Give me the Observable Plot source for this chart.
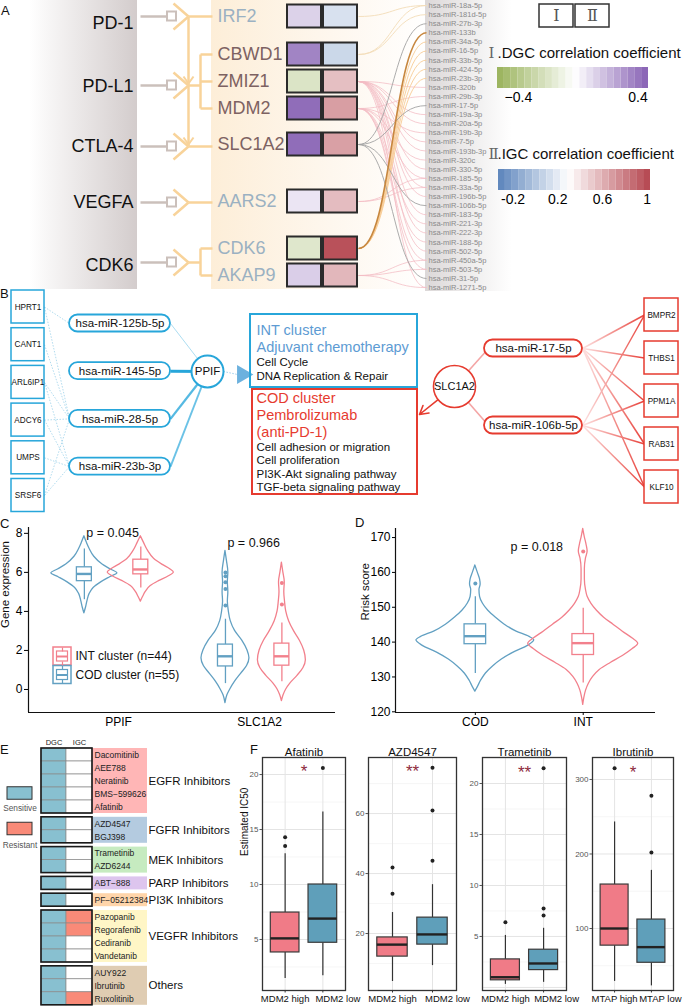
<!DOCTYPE html>
<html>
<head>
<meta charset="utf-8">
<script src="https://cdn.jsdelivr.net/npm/d3@7"></script>
<script src="https://cdn.jsdelivr.net/npm/@observablehq/plot@0.6"></script>
<style>
  html, body { margin: 0; padding: 0; background: #fff; }
  #root { position: relative; width: 685px; height: 1007px; overflow: hidden; background: #fff;
          font-family: "Liberation Sans", Arial, Helvetica, sans-serif; }
  #root > * { position: absolute; }
  .tag { font-size: 13px; color: #111; line-height: 15px; }
</style>
</head>
<body>
<div id="root"></div>
<script>
// ======================= DATA =======================
// ---- Panel A ----
const checkpoints = ["PD-1", "PD-L1", "CTLA-4", "VEGFA", "CDK6"];
const immuneCheckpoints = ["PD-1", "PD-L1", "CTLA-4"];
const targetGenes = ["IRF2", "CBWD1", "ZMIZ1", "MDM2", "SLC1A2", "AARS2", "CDK6", "AKAP9"];
const geneCheckpoint = ["PD-1", "PD-L1", "PD-L1", "PD-L1", "CTLA-4", "VEGFA", "CDK6", "CDK6"];
const geneHighlighted = [false, true, true, true, true, false, false, false];
const dgcCorr = [0.12, 0.36, -0.2, 0.43, 0.43, 0.06, -0.18, 0.13];
const igcCorr = [0.15, 0.1, 0.55, 0.68, 0.67, 0.56, 0.98, 0.58];
const dgcLegendTicks = [-0.4, 0.4];
const igcLegendTicks = [-0.2, 0.2, 0.6, 1];
const mirnas = ["hsa-miR-18a-5p","hsa-miR-181d-5p","hsa-miR-27b-3p","hsa-miR-133b","hsa-miR-34a-5p","hsa-miR-16-5p",
  "hsa-miR-33b-5p","hsa-miR-424-5p","hsa-miR-23b-3p","hsa-miR-320b","hsa-miR-29b-3p","hsa-miR-17-5p","hsa-miR-19a-3p",
  "hsa-miR-20a-5p","hsa-miR-19b-3p","hsa-miR-7-5p","hsa-miR-193b-3p","hsa-miR-320c","hsa-miR-330-5p","hsa-miR-185-5p",
  "hsa-miR-33a-5p","hsa-miR-196b-5p","hsa-miR-106b-5p","hsa-miR-183-5p","hsa-miR-221-3p","hsa-miR-222-3p",
  "hsa-miR-188-5p","hsa-miR-502-5p","hsa-miR-450a-5p","hsa-miR-503-5p","hsa-miR-31-5p","hsa-miR-1271-5p"];
const pinkTargetsZMIZ1 = ["hsa-miR-320b","hsa-miR-19a-3p","hsa-miR-20a-5p","hsa-miR-7-5p","hsa-miR-193b-3p",
  "hsa-miR-330-5p","hsa-miR-33a-5p","hsa-miR-196b-5p","hsa-miR-183-5p","hsa-miR-222-3p","hsa-miR-502-5p","hsa-miR-1271-5p"];
const pinkTargetsMDM2 = ["hsa-miR-29b-3p","hsa-miR-19b-3p","hsa-miR-320c","hsa-miR-185-5p","hsa-miR-221-3p",
  "hsa-miR-188-5p","hsa-miR-450a-5p","hsa-miR-503-5p"];
const pinkTargetsAARS2 = ["hsa-miR-185-5p","hsa-miR-33a-5p"];
const pinkTargetsAKAP9 = ["hsa-miR-450a-5p","hsa-miR-503-5p","hsa-miR-1271-5p"];
const grayTargetsSLC1A2 = ["hsa-miR-27b-3p","hsa-miR-17-5p","hsa-miR-106b-5p","hsa-miR-31-5p"];
const orangeTargetsCDK6 = ["hsa-miR-34a-5p","hsa-miR-16-5p","hsa-miR-33b-5p","hsa-miR-424-5p","hsa-miR-23b-3p"];
const amberTargetsCDK6 = ["hsa-miR-133b"];
const beigeTargetsIRF2 = ["hsa-miR-18a-5p"];
const beigeTargetsCBWD1 = ["hsa-miR-181d-5p","hsa-miR-18a-5p"];

// ---- Panel B ----
const ppifTargets = ["HPRT1","CANT1","ARL6IP1","ADCY6","UMPS","SRSF6"];
const ppifMirnas = ["hsa-miR-125b-5p","hsa-miR-145-5p","hsa-miR-28-5p","hsa-miR-23b-3p"];
const ppifMirWeight = [0.15, 1, 0.7, 0.55];
const ppifTargetLinks = [["HPRT1","hsa-miR-125b-5p"],["HPRT1","hsa-miR-28-5p"],["CANT1","hsa-miR-28-5p"],
  ["ARL6IP1","hsa-miR-28-5p"],["ARL6IP1","hsa-miR-23b-3p"],["ADCY6","hsa-miR-28-5p"],["ADCY6","hsa-miR-23b-3p"],
  ["UMPS","hsa-miR-23b-3p"],["SRSF6","hsa-miR-23b-3p"],["SRSF6","hsa-miR-28-5p"]];
const slcMirnas = ["hsa-miR-17-5p","hsa-miR-106b-5p"];
const slcTargets = ["BMPR2","THBS1","PPM1A","RAB31","KLF10"];
const slcTargetLinks = [["hsa-miR-17-5p","BMPR2"],["hsa-miR-17-5p","THBS1"],["hsa-miR-17-5p","PPM1A"],
  ["hsa-miR-17-5p","RAB31"],["hsa-miR-17-5p","KLF10"],["hsa-miR-106b-5p","BMPR2"],["hsa-miR-106b-5p","PPM1A"],
  ["hsa-miR-106b-5p","RAB31"],["hsa-miR-106b-5p","KLF10"]];
const intHeader = ["INT cluster","Adjuvant chemotherapy"];
const intPathways = ["Cell Cycle","DNA Replication & Repair"];
const codHeader = ["COD cluster","Pembrolizumab","(anti-PD-1)"];
const codPathways = ["Cell adhesion or migration","Cell proliferation","PI3K-Akt signaling pathway","TGF-beta signaling pathway"];

// ---- Panel C ----
const cGenes = ["PPIF","SLC1A2"];
const cClusters = ["COD","INT"];
const cLegend = ["INT cluster (n=44)","COD cluster (n=55)"];
const cPvalues = ["p = 0.045","p = 0.966"];
const ppifCodViolin = [[3.9,0],[4.2,0.05],[4.5,0.09],[4.9,0.16],[5.2,0.28],[5.5,0.52],[5.75,0.78],[5.95,1],[6.15,0.8],[6.4,0.55],[6.8,0.3],[7.2,0.16],[7.5,0.08],[7.85,0]];
const ppifIntViolin = [[4.5,0],[4.75,0.07],[5.0,0.15],[5.3,0.3],[5.55,0.55],[5.8,0.85],[6.0,1],[6.15,0.9],[6.4,0.65],[6.7,0.4],[7.1,0.22],[7.5,0.1],[7.85,0]];
const slcCodViolin = [[-0.7,0],[-0.3,0.08],[0,0.2],[0.4,0.4],[0.8,0.65],[1.2,0.9],[1.6,1],[2.0,0.92],[2.5,0.7],[3.0,0.4],[3.5,0.22],[4.0,0.14],[4.5,0.1],[5.0,0.12],[5.5,0.1],[6.0,0.12],[6.6,0.06],[7.1,0]];
const slcIntViolin = [[-0.6,0],[-0.3,0.07],[0,0.18],[0.3,0.35],[0.7,0.65],[1.1,0.9],[1.5,1],[2.0,0.93],[2.5,0.75],[3.0,0.5],[3.5,0.3],[4.0,0.18],[4.5,0.13],[5.0,0.1],[5.5,0.12],[6.0,0.06],[6.5,0]];
// [lo, q1, median, q3, hi]
const ppifCodBox = [4.6, 5.55, 5.92, 6.26, 7.2];
const ppifIntBox = [5.2, 5.9, 6.15, 6.65, 7.3];
const slcCodBox = [0.3, 1.18, 1.7, 2.3, 3.6];
const slcIntBox = [0.4, 1.22, 1.7, 2.35, 3.4];
const slcCodOutliers = [4.3, 5.15, 5.5, 5.8, 6.0];
const slcIntOutliers = [4.35, 5.45];

// ---- Panel D ----
const dGroups = ["COD","INT"];
const dPvalue = "p = 0.018";
const codRiskViolin = [[125.8,0],[127,0.04],[129,0.1],[131,0.18],[133,0.3],[135,0.45],[137,0.65],[139,0.9],[140.5,1],[141.5,0.92],[143,0.7],[145,0.5],[147,0.35],[149,0.22],[151,0.13],[153,0.08],[155,0.07],[156.5,0.09],[158,0.08],[160,0.04],[162,0]];
const intRiskViolin = [[122,0],[124,0.02],[126,0.05],[128,0.1],[130,0.18],[132,0.3],[134,0.5],[136,0.72],[138,0.9],[139.5,1],[141,0.9],[143,0.72],[145,0.55],[147,0.38],[149,0.25],[151,0.15],[153,0.08],[155,0.05],[158,0.03],[161,0.03],[164,0.05],[166,0.08],[168,0.06],[170,0.03],[172.5,0]];
const codRiskBox = [131, 139.4, 141.7, 145.1, 153];
const intRiskBox = [128.3, 136.3, 139.7, 142.3, 149.7];
const codRiskOutliers = [156.8];
const intRiskOutliers = [166];

// ---- Panel E ----
const drugs = ["Dacomitinib","AEE788","Neratinib","BMS\u2212599626","Afatinib","AZD4547","BGJ398","Trametinib","AZD6244",
  "ABT\u2212888","PF\u221205212384","Pazopanib","Regorafenib","Cediranib","Vandetanib","AUY922","Ibrutinib","Ruxolitinib"];
const drugClasses = ["EGFR Inhibitors","FGFR Inhibitors","MEK Inhibitors","PARP Inhibitors","PI3K Inhibitors","VEGFR Inhibitors","Others"];
const drugClass = ["EGFR Inhibitors","EGFR Inhibitors","EGFR Inhibitors","EGFR Inhibitors","EGFR Inhibitors",
  "FGFR Inhibitors","FGFR Inhibitors","MEK Inhibitors","MEK Inhibitors","PARP Inhibitors","PI3K Inhibitors",
  "VEGFR Inhibitors","VEGFR Inhibitors","VEGFR Inhibitors","VEGFR Inhibitors","Others","Others","Others"];
const dgcResponse = ["Sensitive","Sensitive","Sensitive","Sensitive","Sensitive","Sensitive","Sensitive","Sensitive","Sensitive",
  "Sensitive","Sensitive","Sensitive","Sensitive","Sensitive","Sensitive","Sensitive","Sensitive","Sensitive"];
const igcResponse = ["NS","NS","NS","NS","NS","NS","NS","NS","NS","NS","NS","Resistant","Resistant","NS","NS","NS","NS","Resistant"];
const responseLevels = ["Sensitive","Resistant"];
const eColumns = ["DGC","IGC"];

// ---- Panel F ----
const fDrugs = ["Afatinib","AZD4547","Trametinib","Ibrutinib"];
const fGroupLabels = [["MDM2 high","MDM2 low"],["MDM2 high","MDM2 low"],["MDM2 high","MDM2 low"],["MTAP high","MTAP low"]];
const fSignif = ["*","**","**","*"];
const fYTicks = [[5,10,15,20],[20,40,60],[5,10,15,20],[100,200,300]];
// [lo, q1, median, q3, hi] for (high, low)
const afatinibBox = [[1.45, 3.82, 5.1, 7.45, 12.8], [1.7, 4.7, 6.9, 10.0, 16.6]];
const azd4547Box = [[4, 12.3, 16.3, 18.7, 27], [9.3, 16.3, 19.7, 25.3, 36.3]];
const trametinibBox = [[0.3, 0.7, 1.0, 2.75, 5.1], [0.5, 1.7, 2.35, 3.7, 5.8]];
const ibrutinibBox = [[29, 77, 100, 159, 243], [23, 54, 75, 112, 178]];
const afatinibOutliers = [[13.5, 14.3], [20.6]];
const azd4547Outliers = [[33.3, 42], [44.3, 61, 75.3]];
const trametinibOutliers = [[6.4], [7.05, 7.75, 21.5]];
const ibrutinibOutliers = [[315], [202, 278]];

// ======================= LAYOUT & STYLE =======================
const FONT = '"Liberation Sans", Arial, Helvetica, sans-serif';
const SERIF = '"DejaVu Serif", "Liberation Serif", serif';
const root = document.getElementById("root");
function put(node, left, top) { node.style.left = left + "px"; node.style.top = top + "px"; root.appendChild(node); return node; }
function mkPlot(o) {
  return Plot.plot({...o, style: {fontFamily: FONT, background: "transparent", overflow: "visible"}});
}
function canvasPlot({left, top, width, height, marks}) {
  const svg = mkPlot({width, height, margin: 0,
    x: {domain: [left, left + width], range: [0, width], axis: null},
    y: {domain: [top, top + height], range: [0, height], axis: null},
    color: {type: "identity"}, marks: marks.filter(Boolean)});
  return put(svg, left, top);
}
function addGradient(svg, id, stops, attrs = {}) {
  let defs = svg.querySelector("defs");
  if (!defs) { defs = document.createElementNS("http://www.w3.org/2000/svg", "defs"); svg.insertBefore(defs, svg.firstChild); }
  const g = d3.select(defs).append("linearGradient").attr("id", id);
  for (const [k, v] of Object.entries(attrs)) g.attr(k, v);
  for (const [o, c] of stops) g.append("stop").attr("offset", o).attr("stop-color", c);
}
function tag(letter, left, top) {
  const d = document.createElement("div"); d.className = "tag"; d.textContent = letter; put(d, left, top);
}

// -------- Panel A --------
const LA = {
  width: 685, height: 292,
  ckLabelX: 133, ckLabelY: [23, 86, 146, 202, 265], ckLinkY: [16, 85, 146, 202, 262],
  stemX: [140, 167], square: [167, 176], forkX: [173, 188], forkH: 13,
  bracketX: 200, geneLineEnd: 212, geneLabelX: 217,
  geneY: [16, 54, 81, 108, 144, 201, 248, 275],
  cellX: [[287, 321], [323, 357]], cellH: 23,
  linkX: [358, 426], mirX: 428, mirY0: 5, mirStep: 9.1,
  grayBand: [30, 137], beigeBand: [211, 430], mirBand: [425, 512], bandBottom: 289,
  romanBoxes: [[539, 573], [575, 609]], romanBoxY: [4, 27],
  dgcTitleY: 53, igcTitleY: 154, titleRomanX: 488, titleX: 497
};
const STY = {
  ckGray: "#cbc0bb", fork: "#f8d39a", geneMuted: "#9bb1c2", geneDark: "#7d6262", cellStroke: "#2b2b2b",
  link: {pink: "#f3bcc4", gray: "#a3a3a3", amber: "#c7873f", orange: "#f7cc95", beige: "#f3dcb8"},
  blue: "#27a6da", red: "#e63b2f", cBlue: "#62a0c2", cRed: "#f2808c",
  fRed: "#f07b87", fBlue: "#5f9fba", sens: "#88c0d0", resi: "#f98a78",
  classFill: ["#ffb6b6","#b4cbe0","#c6ebc0","#ddc5ee","#ffd5aa","#fff6c6","#dfccb2"]
};
const dgcColorOpts = {type: "diverging", domain: [-0.54, 0.47], pivot: -0.02, symmetric: false,
  interpolate: d3.piecewise(d3.interpolateRgb, ["#98b25a", "#ffffff", "#8660b3"])};
const igcColorOpts = {type: "diverging", domain: [-0.33, 1.03], pivot: 0.3, symmetric: false,
  interpolate: d3.piecewise(d3.interpolateRgb, ["#5a83bb", "#ffffff", "#b4444e"])};
const dgcScale = Plot.scale({color: dgcColorOpts});
const igcScale = Plot.scale({color: igcColorOpts});

const geneY = g => LA.geneY[targetGenes.indexOf(g)];
const ckY = c => LA.ckLinkY[checkpoints.indexOf(c)];
const mirY = m => LA.mirY0 + mirnas.indexOf(m) * LA.mirStep;
const ckGenes = c => targetGenes.filter((g, i) => geneCheckpoint[i] === c);

const mirLinks = [
  ...pinkTargetsZMIZ1.map(m => ["ZMIZ1", m, "pink"]),
  ...pinkTargetsMDM2.map(m => ["MDM2", m, "pink"]),
  ...pinkTargetsAARS2.map(m => ["AARS2", m, "pink"]),
  ...pinkTargetsAKAP9.map(m => ["AKAP9", m, "pink"]),
  ...beigeTargetsIRF2.map(m => ["IRF2", m, "beige"]),
  ...beigeTargetsCBWD1.map(m => ["CBWD1", m, "beige"]),
  ...orangeTargetsCDK6.map(m => ["CDK6", m, "orange"]),
  ...grayTargetsSLC1A2.map(m => ["SLC1A2", m, "gray"]),
  ...amberTargetsCDK6.map(m => ["CDK6", m, "amber"])
];
const forkArms = checkpoints.flatMap(c => [-1, 1].map(s => ({c, s})));
const downHeads = immuneCheckpoints.slice(1).flatMap(c => [-1, 1].map(s => ({c, s})));
const junctionSegs = checkpoints.flatMap(c => {
  const gs = ckGenes(c), y = ckY(c);
  if (gs.length === 1) return [{x1: LA.forkX[1], y1: y, x2: LA.geneLineEnd, y2: y}];
  const ys = gs.map(geneY);
  return [{x1: LA.forkX[1], y1: y, x2: LA.bracketX, y2: y},
          {x1: LA.bracketX, y1: d3.min(ys), x2: LA.bracketX, y2: d3.max(ys)},
          ...ys.map(v => ({x1: LA.bracketX, y1: v, x2: LA.geneLineEnd, y2: v}))];
});
const cellData = targetGenes.flatMap((g, i) => [
  {g, col: 0, fill: dgcScale.apply(dgcCorr[i])},
  {g, col: 1, fill: igcScale.apply(igcCorr[i])}
]);

const svgA = canvasPlot({left: 0, top: 0, width: LA.width, height: LA.height, marks: [
  Plot.rect([0], {x1: LA.grayBand[0], x2: LA.grayBand[1], y1: 0, y2: LA.bandBottom, fill: "url(#gAgray)"}),
  Plot.rect([0], {x1: LA.beigeBand[0], x2: LA.beigeBand[1], y1: 0, y2: LA.bandBottom, fill: "url(#gAbeige)"}),
  Plot.rect([0], {x1: LA.mirBand[0], x2: LA.mirBand[1], y1: 0, y2: LA.bandBottom + 2, fill: "url(#gAmir)"}),
  Plot.link(mirLinks, {x1: LA.linkX[0], y1: d => geneY(d[0]), x2: LA.linkX[1], y2: d => mirY(d[1]),
    stroke: d => STY.link[d[2]], strokeWidth: d => d[2] === "amber" ? 1.6 : 0.9,
    strokeOpacity: d => d[2] === "pink" ? 0.85 : 1, curve: "bump-x"}),
  Plot.link(checkpoints, {x1: LA.stemX[0], x2: LA.stemX[1], y1: ckY, y2: ckY, stroke: STY.ckGray, strokeWidth: 2.5}),
  Plot.link(forkArms, {x1: LA.forkX[0], y1: d => ckY(d.c) + d.s * LA.forkH, x2: LA.forkX[1], y2: d => ckY(d.c),
    stroke: STY.fork, strokeWidth: 2.5}),
  Plot.link([0], {x1: LA.forkX[1], x2: LA.forkX[1], y1: ckY(immuneCheckpoints[0]), y2: ckY(immuneCheckpoints[immuneCheckpoints.length - 1]),
    stroke: STY.fork, strokeWidth: 2.5}),
  Plot.link(downHeads, {x1: d => LA.forkX[1] + d.s * 5, y1: d => ckY(d.c) - 9, x2: LA.forkX[1], y2: d => ckY(d.c) - 2,
    stroke: STY.fork, strokeWidth: 2}),
  Plot.link(junctionSegs, {x1: "x1", y1: "y1", x2: "x2", y2: "y2", stroke: STY.fork, strokeWidth: 2.5}),
  Plot.rect(checkpoints, {x1: LA.square[0], x2: LA.square[1], y1: d => ckY(d) - 4.5, y2: d => ckY(d) + 4.5,
    fill: "#ffffff", stroke: STY.ckGray, strokeWidth: 2}),
  Plot.text(checkpoints, {x: LA.ckLabelX, y: (d, i) => LA.ckLabelY[i], text: d => d, textAnchor: "end", fontSize: 18, fill: "#111"}),
  Plot.text(targetGenes, {x: LA.geneLabelX, y: geneY, text: d => d, textAnchor: "start", fontSize: 18,
    fill: (d, i) => geneHighlighted[i] ? STY.geneDark : STY.geneMuted}),
  Plot.rect(cellData, {x1: d => LA.cellX[d.col][0], x2: d => LA.cellX[d.col][1],
    y1: d => geneY(d.g) - LA.cellH / 2, y2: d => geneY(d.g) + LA.cellH / 2,
    fill: "fill", stroke: STY.cellStroke, strokeWidth: 2}),
  Plot.text(mirnas, {x: LA.mirX, y: d => mirY(d), text: d => d, textAnchor: "start", fontSize: 7.5, fill: "#8a8a8a"}),
  Plot.rect(LA.romanBoxes, {x1: d => d[0], x2: d => d[1], y1: LA.romanBoxY[0], y2: LA.romanBoxY[1], fill: "#fff", stroke: "#333", strokeWidth: 1.5}),
  Plot.text(["\u2160", "\u2161"], {x: (d, i) => (LA.romanBoxes[i][0] + LA.romanBoxes[i][1]) / 2, y: (LA.romanBoxY[0] + LA.romanBoxY[1]) / 2,
    text: d => d, fontSize: 16, fontFamily: SERIF, fill: "#555"}),
  Plot.text(["\u2160", "\u2161"], {x: LA.titleRomanX, y: (d, i) => [LA.dgcTitleY, LA.igcTitleY][i], text: d => d,
    textAnchor: "start", fontSize: 15, fontFamily: SERIF, fill: "#666"}),
  Plot.text([".DGC correlation coefficient", ".IGC correlation coefficient"], {x: LA.titleX, y: (d, i) => [LA.dgcTitleY, LA.igcTitleY][i],
    text: d => d, textAnchor: "start", fontSize: 15, fill: "#111"})
]});
addGradient(svgA, "gAgray", [[0, "#ffffff"], [0.15, "#f8f7f7"], [1, "#d3cccc"]]);
addGradient(svgA, "gAbeige", [[0, "#fdeed8"], [0.55, "#fef7ee"], [1, "#ffffff"]]);
addGradient(svgA, "gAmir", [[0, "#dcd8d8"], [0.6, "#f1f0f0"], [1, "#ffffff"]]);

function corrLegend(opts, ticks, fmt, x0, x1, top) {
  const n = 22, [lo, hi] = opts.domain, w = (hi - lo) / n;
  const steps = d3.range(n).map(i => lo + (i + 0.5) * w);
  const svg = mkPlot({width: x1 - x0 + 40, height: 50, marginLeft: 20, marginRight: 20, marginTop: 0, marginBottom: 29,
    x: {domain: [lo, hi]}, y: {domain: [0, 1], axis: null}, color: opts,
    marks: [
      Plot.rect(steps, {x1: d => d - w / 2, x2: d => d + w / 2, y1: 0, y2: 1, fill: d => d}),
      Plot.axisX({ticks, tickFormat: fmt, tickSize: 0, tickPadding: 4, fontSize: 14, label: null})
    ]});
  put(svg, x0 - 20, top);
}
corrLegend(dgcColorOpts, dgcLegendTicks, d => d < 0 ? "\u2212" + Math.abs(d) : String(d), 497, 648, 67);
corrLegend(igcColorOpts, igcLegendTicks, d => String(d), 498, 650, 169);

// -------- Panel B --------
const LB = {
  top: 285, height: 240,
  lBoxX: [11, 44], lBoxY0: 306.5, lBoxStep: 37.7, boxH: 33,
  lPillX: [69, 170], lPillY0: 323, lPillStep: 47.7, pillH: 17,
  ppif: [207, 371], ppifR: 16, triangle: [242, 374],
  intBox: [250, 417, 314, 387], codBox: [252, 417, 389, 494], textX: 256,
  intLineY: [330, 347, 362, 376], codLineY: [398, 415, 432, 447, 460, 474, 487],
  slc: [454, 386], slcR: 21, codArrowTip: [419, 414],
  rPillX: [484, 582], rPillY: [348, 425],
  rBoxX: [644, 678], rBoxY0: 314.5, rBoxStep: 43
};
const lBoxCY = g => LB.lBoxY0 + ppifTargets.indexOf(g) * LB.lBoxStep;
const lPillCY = m => LB.lPillY0 + ppifMirnas.indexOf(m) * LB.lPillStep;
const rPillCY = m => LB.rPillY[slcMirnas.indexOf(m)];
const rBoxCY = g => LB.rBoxY0 + slcTargets.indexOf(g) * LB.rBoxStep;
const mid = a => (a[0] + a[1]) / 2;

const svgB = canvasPlot({left: 0, top: LB.top, width: 685, height: LB.height, marks: [
  Plot.link(ppifTargetLinks, {x1: LB.lBoxX[1], y1: d => lBoxCY(d[0]), x2: LB.lPillX[0], y2: d => lPillCY(d[1]),
    stroke: "#8fcbe6", strokeWidth: 0.7, strokeDasharray: "1.5,1.5"}),
  Plot.link(ppifMirnas, {x1: LB.lPillX[1], y1: lPillCY, x2: LB.ppif[0], y2: LB.ppif[1], stroke: STY.blue,
    strokeWidth: (d, i) => 0.6 + 2.4 * ppifMirWeight[i], strokeOpacity: (d, i) => 0.3 + 0.7 * ppifMirWeight[i]}),
  Plot.link([0], {x1: LB.ppif[0] + LB.ppifR, y1: LB.ppif[1], x2: LB.triangle[0] - 5, y2: LB.triangle[1],
    stroke: "#9fd0ee", strokeWidth: 1, strokeDasharray: "1.5,1.5"}),
  Plot.dot([0], {x: LB.triangle[0], y: LB.triangle[1], symbol: "triangle", rotate: 90, r: 7, fill: "#6cb1de"}),
  Plot.rect(ppifTargets, {x1: LB.lBoxX[0], x2: LB.lBoxX[1], y1: d => lBoxCY(d) - LB.boxH / 2, y2: d => lBoxCY(d) + LB.boxH / 2,
    fill: "#fff", stroke: STY.blue, strokeWidth: 1.5}),
  Plot.text(ppifTargets, {x: mid(LB.lBoxX), y: lBoxCY, text: d => d, fontSize: 8.2, fill: "#111"}),
  Plot.rect(ppifMirnas, {x1: LB.lPillX[0], x2: LB.lPillX[1], y1: d => lPillCY(d) - LB.pillH / 2, y2: d => lPillCY(d) + LB.pillH / 2,
    rx: LB.pillH / 2, fill: "#fff", stroke: STY.blue, strokeWidth: 1.8}),
  Plot.text(ppifMirnas, {x: mid(LB.lPillX), y: lPillCY, text: d => d, fontSize: 11.5, fill: "#111"}),
  Plot.dot(["PPIF"], {x: LB.ppif[0], y: LB.ppif[1], r: LB.ppifR, fill: "#fff", stroke: STY.blue, strokeWidth: 2}),
  Plot.text(["PPIF"], {x: LB.ppif[0], y: LB.ppif[1], text: d => d, fontSize: 11.5, fill: "#111"}),
  Plot.rect([0], {x1: LB.intBox[0], x2: LB.intBox[1], y1: LB.intBox[2], y2: LB.intBox[3], fill: "none", stroke: STY.blue, strokeWidth: 2}),
  Plot.rect([0], {x1: LB.codBox[0], x2: LB.codBox[1], y1: LB.codBox[2], y2: LB.codBox[3], fill: "none", stroke: STY.red, strokeWidth: 2}),
  Plot.text(intHeader, {x: LB.textX, y: (d, i) => LB.intLineY[i], text: d => d, textAnchor: "start", fontSize: 14.5, fill: "#5d9bd3"}),
  Plot.text(intPathways, {x: LB.textX, y: (d, i) => LB.intLineY[i + intHeader.length], text: d => d, textAnchor: "start", fontSize: 11.5, fill: "#111"}),
  Plot.text(codHeader, {x: LB.textX, y: (d, i) => LB.codLineY[i], text: d => d, textAnchor: "start", fontSize: 14.5, fill: STY.red}),
  Plot.text(codPathways, {x: LB.textX, y: (d, i) => LB.codLineY[i + codHeader.length], text: d => d, textAnchor: "start", fontSize: 11.5, fill: "#111"}),
  Plot.link(slcTargetLinks, {x1: LB.rPillX[1], y1: d => rPillCY(d[0]), x2: LB.rBoxX[0], y2: d => rBoxCY(d[1]),
    stroke: "url(#gBred)", strokeWidth: 1.5}),
  Plot.link(slcMirnas, {x1: LB.slc[0], y1: LB.slc[1], x2: LB.rPillX[0] + 4, y2: rPillCY, stroke: "#f4a5a5", strokeWidth: 1.6}),
  Plot.arrow([0], {x1: LB.slc[0], y1: LB.slc[1], x2: LB.codArrowTip[0], y2: LB.codArrowTip[1], insetStart: LB.slcR,
    stroke: STY.red, strokeWidth: 1.6, headLength: 9}),
  Plot.dot(["SLC1A2"], {x: LB.slc[0], y: LB.slc[1], r: LB.slcR, fill: "#fff", stroke: STY.red, strokeWidth: 1.6}),
  Plot.text(["SLC1A2"], {x: LB.slc[0], y: LB.slc[1], text: d => d, fontSize: 11, fill: "#111"}),
  Plot.rect(slcMirnas, {x1: LB.rPillX[0], x2: LB.rPillX[1], y1: d => rPillCY(d) - LB.pillH / 2, y2: d => rPillCY(d) + LB.pillH / 2,
    rx: LB.pillH / 2, fill: "#fff", stroke: STY.red, strokeWidth: 1.8}),
  Plot.text(slcMirnas, {x: mid(LB.rPillX), y: rPillCY, text: d => d, fontSize: 11.5, fill: "#111"}),
  Plot.rect(slcTargets, {x1: LB.rBoxX[0], x2: LB.rBoxX[1], y1: d => rBoxCY(d) - LB.boxH / 2, y2: d => rBoxCY(d) + LB.boxH / 2,
    fill: "#fff", stroke: STY.red, strokeWidth: 1.5}),
  Plot.text(slcTargets, {x: mid(LB.rBoxX), y: rBoxCY, text: d => d, fontSize: 8.2, fill: "#111"})
]});
addGradient(svgB, "gBred", [[0, "#fde2e2"], [1, "#e8413a"]], {gradientUnits: "userSpaceOnUse", x1: LB.rPillX[1], x2: LB.rBoxX[0], y1: 0, y2: 0});

// -------- Panel C --------
function boxRows(stats, pos) { return {lo: stats[0], q1: stats[1], med: stats[2], q3: stats[3], hi: stats[4], x: pos}; }
const cDodge = 0.2;
const cSeries = [
  {gene: "PPIF", cl: "COD", violin: ppifCodViolin, box: ppifCodBox, out: [], hw: 0.234},
  {gene: "PPIF", cl: "INT", violin: ppifIntViolin, box: ppifIntBox, out: [], hw: 0.234},
  {gene: "SLC1A2", cl: "COD", violin: slcCodViolin, box: slcCodBox, out: slcCodOutliers, hw: 0.17},
  {gene: "SLC1A2", cl: "INT", violin: slcIntViolin, box: slcIntBox, out: slcIntOutliers, hw: 0.17}
].map(s => ({...s, x: cGenes.indexOf(s.gene) + 1 + (s.cl === cClusters[0] ? -cDodge : cDodge),
  color: s.cl === "COD" ? STY.cBlue : STY.cRed}));

function violinMarks(series, boxHW) {
  const rows = series.map(s => ({...boxRows(s.box, s.x), color: s.color}));
  const outs = series.flatMap(s => s.out.map(v => ({x: s.x, v, color: s.color})));
  return [
    ...series.map(s => Plot.areaX(s.violin, {y: d => d[0], x1: d => s.x - d[1] * s.hw, x2: d => s.x + d[1] * s.hw,
      fill: "none", stroke: s.color, strokeWidth: 1.3, curve: "monotone-y"})),
    Plot.ruleX(rows, {x: "x", y1: "q3", y2: "hi", stroke: "color", strokeWidth: 1.3}),
    Plot.ruleX(rows, {x: "x", y1: "lo", y2: "q1", stroke: "color", strokeWidth: 1.3}),
    Plot.rect(rows, {x1: d => d.x - boxHW, x2: d => d.x + boxHW, y1: "q1", y2: "q3", fill: "#fff", stroke: "color", strokeWidth: 1.3}),
    Plot.ruleY(rows, {y: "med", x1: d => d.x - boxHW, x2: d => d.x + boxHW, stroke: "color", strokeWidth: 2.4}),
    Plot.dot(outs, {x: "x", y: "v", r: 2, fill: "color"})
  ];
}
const LC = {domainX: [0.404, 2.58], domainY: [-1.18, 8.3], pY: [8.0, 7.5]};
put(mkPlot({width: 340, height: 215, marginLeft: 28, marginRight: 5, marginTop: 7, marginBottom: 23,
  x: {domain: LC.domainX}, y: {domain: LC.domainY}, color: {type: "identity"},
  marks: [
    ...violinMarks(cSeries, 0.053),
    Plot.text(cPvalues, {x: (d, i) => i + 1, y: (d, i) => LC.pY[i], text: d => d, fontSize: 12.5, fill: "#111"}),
    Plot.ruleX([LC.domainX[0]], {stroke: "#111", strokeWidth: 1.2}),
    Plot.ruleY([LC.domainY[0]], {stroke: "#111", strokeWidth: 1.2}),
    Plot.axisY({ticks: [0, 2, 4, 6, 8], tickSize: 4, tickPadding: 2, fontSize: 12, label: null}),
    Plot.axisX({ticks: [1, 2], tickFormat: i => cGenes[i - 1], tickSize: 0, tickPadding: 5, fontSize: 12, dx: 6, label: null}),
    Plot.text(["Gene expression"], {frameAnchor: "left", rotate: -90, dx: -23, dy: 8, fontSize: 11.5, fill: "#111"})
  ]}), 0, 520);
// legend for C
const LCL = {left: 50, top: 644, iconX: [53, 71], innerX: [56.5, 67.5], textX: 75, y: [656, 674.5], h: 18};
canvasPlot({left: LCL.left, top: LCL.top, width: 150, height: 42, marks: [
  Plot.rect(cLegend, {x1: LCL.iconX[0], x2: LCL.iconX[1], y1: (d, i) => LCL.y[i] - LCL.h / 2, y2: (d, i) => LCL.y[i] + LCL.h / 2,
    fill: "#fff", stroke: (d, i) => i === 0 ? STY.cRed : STY.cBlue, strokeWidth: 1.5}),
  Plot.rect(cLegend, {x1: LCL.innerX[0], x2: LCL.innerX[1], y1: (d, i) => LCL.y[i] - 5, y2: (d, i) => LCL.y[i] + 5,
    fill: "#fff", stroke: (d, i) => i === 0 ? STY.cRed : STY.cBlue, strokeWidth: 1.2}),
  Plot.link(cLegend, {x1: LCL.innerX[0], x2: LCL.innerX[1], y1: (d, i) => LCL.y[i], y2: (d, i) => LCL.y[i],
    stroke: (d, i) => i === 0 ? STY.cRed : STY.cBlue, strokeWidth: 2}),
  Plot.link(cLegend.flatMap((d, i) => [[i, -1], [i, 1]]), {x1: mid(LCL.iconX), x2: mid(LCL.iconX),
    y1: d => LCL.y[d[0]] + d[1] * 5, y2: d => LCL.y[d[0]] + d[1] * (LCL.h / 2),
    stroke: d => d[0] === 0 ? STY.cRed : STY.cBlue, strokeWidth: 1.2}),
  Plot.text(cLegend, {x: LCL.textX, y: (d, i) => LCL.y[i], text: d => d, textAnchor: "start", fontSize: 12, fill: "#111"})
]});

// -------- Panel D --------
const dSeries = [
  {cl: "COD", violin: codRiskViolin, box: codRiskBox, out: codRiskOutliers, hw: 0.546, x: 1, color: STY.cBlue},
  {cl: "INT", violin: intRiskViolin, box: intRiskBox, out: intRiskOutliers, hw: 0.51, x: 2, color: STY.cRed}
];
const LD = {domainX: [0.26, 2.67], domainY: [119.8, 172.6], pX: 1.57, pY: 167.4};
put(mkPlot({width: 345, height: 215, marginLeft: 55, marginRight: 30, marginTop: 8, marginBottom: 23,
  x: {domain: LD.domainX}, y: {domain: LD.domainY}, color: {type: "identity"},
  marks: [
    ...violinMarks(dSeries, 0.1),
    Plot.text([dPvalue], {x: LD.pX, y: LD.pY, text: d => d, fontSize: 12.5, fill: "#111"}),
    Plot.ruleX([LD.domainX[0]], {stroke: "#111", strokeWidth: 1.2}),
    Plot.ruleY([LD.domainY[0]], {stroke: "#111", strokeWidth: 1.2}),
    Plot.axisY({ticks: [120, 130, 140, 150, 160, 170], tickSize: 3, tickPadding: 2, fontSize: 12, label: null}),
    Plot.axisX({ticks: [1, 2], tickFormat: i => dGroups[i - 1], tickSize: 3, tickPadding: 2, fontSize: 12, label: null}),
    Plot.text(["Rrisk score"], {frameAnchor: "left", rotate: -90, dx: -30, fontSize: 11.5, fill: "#111"})
  ]}), 340, 520);

// -------- Panel E --------
const LE = {top: 735, height: 272, rowTop: 748, rowH: 13, gap: 3.8,
  dgcX: [41, 66], igcX: [66, 92], nameX: [92, 147], drugTextX: 94, classTextX: 148, headerY: 742,
  legendX: [7, 32], legendBoxY: [793, 828.5], legendBoxH: 12.5, legendTextY: [808, 845]};
const rowY0 = i => LE.rowTop + i * LE.rowH + drugClasses.indexOf(drugClass[i]) * LE.gap;
const classRows = drugClasses.map(c => {
  const idx = drugs.map((d, i) => i).filter(i => drugClass[i] === c);
  return {c, y1: rowY0(idx[0]), y2: rowY0(idx[idx.length - 1]) + LE.rowH};
});
const respFill = r => r === "Sensitive" ? STY.sens : r === "Resistant" ? STY.resi : "#ffffff";
const eCells = drugs.flatMap((d, i) => [
  {i, x1: LE.dgcX[0], x2: LE.dgcX[1], fill: respFill(dgcResponse[i])},
  {i, x1: LE.igcX[0], x2: LE.igcX[1], fill: respFill(igcResponse[i])}
]);
canvasPlot({left: 0, top: LE.top, width: 250, height: LE.height, marks: [
  Plot.rect(classRows, {x1: LE.nameX[0], x2: LE.nameX[1], y1: "y1", y2: "y2", fill: (d, i) => STY.classFill[i]}),
  Plot.rect(eCells, {x1: "x1", x2: "x2", y1: d => rowY0(d.i), y2: d => rowY0(d.i) + LE.rowH, fill: "fill", stroke: "#8a8a8a", strokeWidth: 0.7}),
  Plot.rect(classRows, {x1: LE.dgcX[0], x2: LE.igcX[1], y1: "y1", y2: "y2", fill: "none", stroke: "#1a1a1a", strokeWidth: 1.6}),
  Plot.text(drugs, {x: LE.drugTextX, y: (d, i) => rowY0(i) + LE.rowH / 2, text: d => d, textAnchor: "start", fontSize: 8.5, fill: "#222"}),
  Plot.text(classRows, {x: LE.classTextX, y: d => (d.y1 + d.y2) / 2, text: "c", textAnchor: "start", fontSize: 11.5, fill: "#111"}),
  Plot.text(eColumns, {x: (d, i) => mid([LE.dgcX, LE.igcX][i]), y: LE.headerY, text: d => d, fontSize: 7.5, fill: "#222"}),
  Plot.rect(responseLevels, {x1: LE.legendX[0], x2: LE.legendX[1], y1: (d, i) => LE.legendBoxY[i] - LE.legendBoxH / 2,
    y2: (d, i) => LE.legendBoxY[i] + LE.legendBoxH / 2, fill: d => respFill(d), stroke: "#333", strokeWidth: 1}),
  Plot.text(responseLevels, {x: mid(LE.legendX), y: (d, i) => LE.legendTextY[i], text: d => d, fontSize: 8.3, fill: "#555"})
]});

// -------- Panel F --------
const LF = {top: 735, height: 272, frameTop: 757, frameBottom: 990, ml: 30, mr: 6, boxHW: 0.38,
  secondLabelDx: [15, 15, 13, 9],
  frames: [{x0: 262, x1: 345, domain: [0.36, 21.55]}, {x0: 368, x1: 456, domain: [1, 78.7]},
           {x0: 482, x1: 566, domain: [-0.3, 22.55]}, {x0: 592, x1: 673, domain: [16.8, 329.5]}]};
const fBoxes = [afatinibBox, azd4547Box, trametinibBox, ibrutinibBox];
const fOutliers = [afatinibOutliers, azd4547Outliers, trametinibOutliers, ibrutinibOutliers];
fDrugs.forEach((drug, k) => {
  const L = LF.frames[k], ticks = fYTicks[k];
  const step = ticks[1] - ticks[0];
  const grid = d3.range(ticks[0] - 3 * step, ticks[ticks.length - 1] + 3 * step, step / 2)
    .filter(v => v > L.domain[0] && v < L.domain[1]);
  const isMajor = v => Math.abs(v / step - Math.round(v / step)) < 1e-6;
  const rows = fBoxes[k].map((b, i) => ({...boxRows(b, i + 1), fill: i === 0 ? STY.fRed : STY.fBlue}));
  const outs = fOutliers[k].flatMap((o, i) => o.map(v => ({x: i + 1, v})));
  const top = d3.max(outs, d => d.v);
  const marks = [
    Plot.ruleY(grid.filter(v => !isMajor(v)), {stroke: "#f0f0f0", strokeWidth: 0.6}),
    Plot.ruleY(grid.filter(isMajor), {stroke: "#e4e4e4", strokeWidth: 1}),
    Plot.ruleX([1, 2], {stroke: "#e4e4e4", strokeWidth: 1}),
    Plot.ruleX(rows, {x: "x", y1: "q3", y2: "hi", stroke: "#333", strokeWidth: 1.2}),
    Plot.ruleX(rows, {x: "x", y1: "lo", y2: "q1", stroke: "#333", strokeWidth: 1.2}),
    Plot.rect(rows, {x1: d => d.x - LF.boxHW, x2: d => d.x + LF.boxHW, y1: "q1", y2: "q3", fill: "fill", stroke: "#3a3a3a", strokeWidth: 1.2}),
    Plot.ruleY(rows, {y: "med", x1: d => d.x - LF.boxHW, x2: d => d.x + LF.boxHW, stroke: "#222", strokeWidth: 2.4}),
    Plot.dot(outs, {x: "x", y: "v", r: 2, fill: "#222"}),
    Plot.text([fSignif[k]], {x: 1.5, y: top, text: d => d, dy: 4, fontSize: 17, fill: "#8e2b3e"}),
    Plot.frame({stroke: "#333", strokeWidth: 1.3}),
    Plot.axisY({ticks, tickSize: 2.5, tickPadding: 1.5, fontSize: 8, color: "#555", label: null}),
    Plot.axisX({ticks: [1, 2], tickSize: 2.5, tickFormat: () => "", color: "#333", label: null}),
    Plot.text([fGroupLabels[k][0]], {x: 1, frameAnchor: "bottom", dy: 11, text: d => d, fontSize: 9.5, fill: "#111"}),
    Plot.text([fGroupLabels[k][1]], {x: 2, frameAnchor: "bottom", dy: 11, dx: LF.secondLabelDx[k], text: d => d, fontSize: 9.5, fill: "#111"}),
    Plot.text([drug], {frameAnchor: "top", dy: -10, text: d => d, fontSize: 11.5, fill: "#111"}),
    k === 0 ? Plot.text(["Estimated IC50"], {frameAnchor: "left", rotate: -90, dx: -18, dy: -18, text: d => d, fontSize: 10, fill: "#111"}) : null
  ].filter(Boolean);
  put(mkPlot({width: L.x1 - L.x0 + LF.ml + LF.mr, height: LF.height, marginLeft: LF.ml, marginRight: LF.mr,
    marginTop: LF.frameTop - LF.top, marginBottom: LF.top + LF.height - LF.frameBottom,
    x: {domain: [0.4, 2.6]}, y: {domain: L.domain}, color: {type: "identity"}, marks}), L.x0 - LF.ml, LF.top);
});

// -------- Panel tags --------
tag("A", 1, 3); tag("B", 0, 286); tag("C", 0, 516); tag("D", 355, 515); tag("E", 0, 742); tag("F", 250, 742);
</script>
</body>
</html>
